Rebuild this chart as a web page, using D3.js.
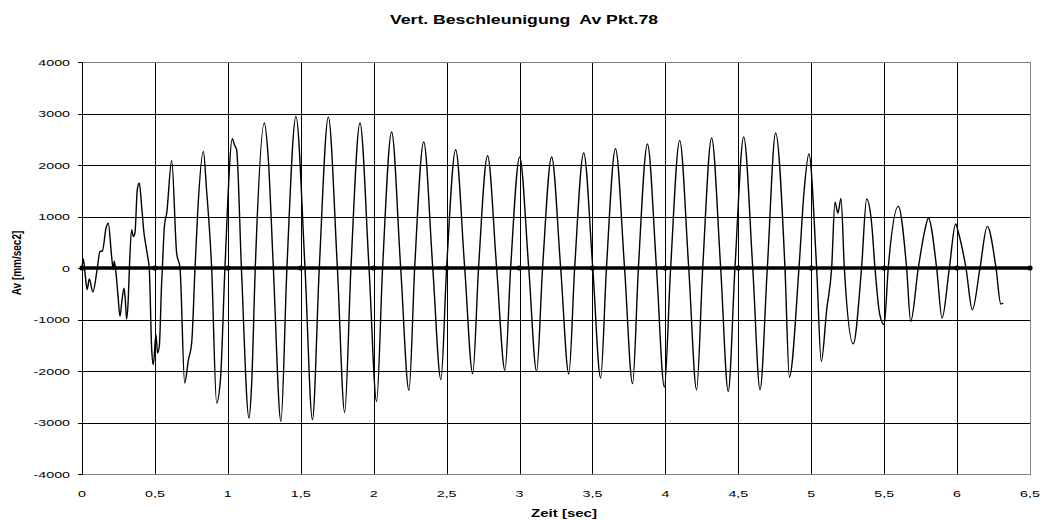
<!DOCTYPE html>
<html>
<head>
<meta charset="utf-8">
<script src="https://cdn.jsdelivr.net/npm/d3@7"></script>
<style>
    body { margin: 0; background: #fff; }
    text { font-family: "Liberation Sans", Arial, sans-serif; fill: #000; }
    .tickText { font-size: 9.5px; }
    .chartTitle { font-size: 12px; font-weight: bold; }
    .axisLabel { font-size: 10px; font-weight: bold; }
</style>
</head>
<body>
<div id="chart"></div>
<script>

// time [sec] and vertical acceleration [mm/sec2]
const zeit = [
    0.000, 0.009, 0.020, 0.035, 0.050, 0.075, 0.105, 0.123, 0.140, 0.165, 0.180, 0.203, 0.214, 0.221, 0.233,
    0.249, 0.260, 0.272, 0.288, 0.297, 0.306, 0.317, 0.325, 0.340, 0.352, 0.363, 0.379, 0.393, 0.409, 0.425,
    0.439, 0.450, 0.461, 0.478, 0.489, 0.507, 0.518, 0.530, 0.546, 0.551, 0.565, 0.581, 0.615, 0.649, 0.672,
    0.704, 0.730, 0.752, 0.775, 0.793, 0.832, 0.854, 0.889, 0.923, 0.950, 0.980, 1.031, 1.044, 1.060, 1.093,
    1.145, 1.163, 1.188, 1.250, 1.277, 1.312, 1.364, 1.405, 1.467, 1.529, 1.580, 1.627, 1.689, 1.751, 1.801,
    1.844, 1.906, 1.968, 2.020, 2.061, 2.123, 2.185, 2.242, 2.281, 2.343, 2.405, 2.461, 2.500, 2.562, 2.624,
    2.679, 2.719, 2.781, 2.843, 2.900, 2.939, 3.001, 3.063, 3.117, 3.158, 3.220, 3.282, 3.338, 3.378, 3.440,
    3.502, 3.556, 3.596, 3.658, 3.720, 3.775, 3.815, 3.877, 3.939, 3.993, 4.036, 4.098, 4.160, 4.214, 4.256,
    4.317, 4.379, 4.431, 4.477, 4.537, 4.599, 4.649, 4.699, 4.756, 4.820, 4.850, 4.916, 4.950, 4.984, 5.037,
    5.069, 5.106, 5.140, 5.163, 5.183, 5.204, 5.227, 5.288, 5.345, 5.380, 5.415, 5.437, 5.470, 5.500, 5.528,
    5.597, 5.654, 5.682, 5.734, 5.780, 5.803, 5.860, 5.897, 5.947, 5.990, 6.010, 6.061, 6.105, 6.157, 6.207,
    6.267, 6.300, 6.317
];
const av = [
    0, 175, -80, -420, -215, -465, 0, 320, 330, 780, 870, 226, -30, 130, -100,
    -615, -940, -680, -390, -615, -990, -615, 0, 744, 615, 680, 1520, 1650, 1197, 680,
    420, 226, 0, -1585, -1877, -1295, -1650, -1520, -290, 0, 810, 1068, 2090, 290, 0,
    -2233, -1780, -1456, 0, 1068, 2265, 1520, 0, -2620, -2135, 0, 2510, 2400, 2297, 0,
    -2913, -2265, 0, 2815, 2135, 0, -2978, 0, 2945, 0, -2945, 0, 2930, 0, -2803,
    0, 2815, 0, -2590, 0, 2640, 0, -2376, 0, 2447, 0, -2169, 0, 2297, 0,
    -2052, 0, 2180, 0, -1988, 0, 2155, 0, -2007, 0, 2155, 0, -2058, 0, 2233,
    0, -2136, 0, 2316, 0, -2246, 0, 2408, 0, -2311, 0, 2478, 0, -2363, 0,
    2524, 0, -2396, 0, 2544, 0, -2363, 0, 2621, 0, -2117, 0, 1456, 2213, 0,
    -1813, -810, 0, 1281, 1068, 1352, 0, -1470, 0, 1340, 840, 0, -907, -1101, 0,
    1197, 0, -1036, 0, 744, 971, 0, -971, 0, 854, 680, 0, -810, 0, 808,
    0, -700, -680
];

// zero reference series with its markers
const nullZeit = [0, 0.5, 1, 1.5, 2, 2.5, 3, 3.5, 4, 4.5, 5, 5.5, 6, 6.5];
const nullAv = [0, 0, 0, 0, 0, 0, 0, 0, 0, 0, 0, 0, 0, 0];

// axis ticks
const xTicks = [0, 0.5, 1, 1.5, 2, 2.5, 3, 3.5, 4, 4.5, 5, 5.5, 6, 6.5];
const yTicks = [-4000, -3000, -2000, -1000, 0, 1000, 2000, 3000, 4000];

/**********************
***** BASIC SETUP *****
**********************/

const width = 1042;
const height = 520;
const margin = {top: 62, left: 82, right: 12, bottom: 46};

const plotWidth = width - margin.left - margin.right;
const plotHeight = height - margin.top - margin.bottom;

// the original picture is stretched sideways, so is its text
const stretch = 1.5;

const svg = d3.select("#chart")
    .append("svg")
    .attr("width", width)
    .attr("height", height);

const signal = zeit.map((t, i) => ({t: t, v: av[i]}));
const nullLine = nullZeit.map((t, i) => ({t: t, v: nullAv[i]}));

/***********************
***** X & Y SCALES *****
***********************/

const xScale = d3.scaleLinear()
    .domain([0, 6.5])
    .range([0, plotWidth]);

const yScale = d3.scaleLinear()
    .domain([-4000, 4000])
    .range([plotHeight, 0]);

const plot = svg.append("g")
    .attr("transform", `translate(${margin.left}, ${margin.top})`);

/*********************
***** GRIDLINES *****
*********************/

plot.append("g")
    .attr("class", "grid")
    .call(d3.axisBottom(xScale)
        .tickValues(xTicks)
        .tickSize(plotHeight)
        .tickFormat(""))
    .call(g => g.select(".domain").remove())
    .call(g => g.selectAll("line").attr("stroke", "#000").attr("shape-rendering", "crispEdges"));

plot.append("g")
    .attr("class", "grid")
    .call(d3.axisLeft(yScale)
        .tickValues(yTicks)
        .tickSize(-plotWidth)
        .tickFormat(""))
    .call(g => g.select(".domain").remove())
    .call(g => g.selectAll("line").attr("stroke", "#000").attr("shape-rendering", "crispEdges"));

// plot frame
plot.append("rect")
    .attr("width", plotWidth)
    .attr("height", plotHeight)
    .attr("fill", "none")
    .attr("stroke", "#808080")
    .attr("shape-rendering", "crispEdges");

/****************
***** AXES *****
****************/

// y axis line with short outside ticks
const yaxis = plot.append("g")
    .call(d3.axisLeft(yScale)
        .tickValues(yTicks)
        .tickSize(4)
        .tickFormat(""));
yaxis.select(".domain").attr("stroke", "#000").attr("shape-rendering", "crispEdges");
yaxis.selectAll("line").attr("stroke", "#000").attr("shape-rendering", "crispEdges");

// y tick labels
plot.selectAll(".yLabel")
    .data(yTicks)
    .enter()
    .append("text")
    .attr("class", "tickText yLabel")
    .attr("text-anchor", "end")
    .attr("transform", d => `translate(-12, ${yScale(d) + 3.5}) scale(${stretch}, 1)`)
    .text(d => d);

// x tick labels
plot.selectAll(".xLabel")
    .data(xTicks)
    .enter()
    .append("text")
    .attr("class", "tickText xLabel")
    .attr("text-anchor", "middle")
    .attr("transform", d => `translate(${xScale(d)}, ${plotHeight + 23}) scale(${stretch}, 1)`)
    .text(d => String(d).replace(".", ","));

/*****************
***** SERIES *****
*****************/

const zeroLine = d3.line()
    .x(d => xScale(d.t))
    .y(d => yScale(d.v));

plot.append("path")
    .datum(nullLine)
    .attr("fill", "none")
    .attr("stroke", "#000")
    .attr("stroke-width", 3.5)
    .attr("d", zeroLine);

plot.selectAll(".marker")
    .data(nullLine)
    .enter()
    .append("circle")
    .attr("class", "marker")
    .attr("cx", d => xScale(d.t))
    .attr("cy", d => yScale(d.v))
    .attr("r", 2.6)
    .attr("fill", "#000");

const signalLine = d3.line()
    .x(d => xScale(d.t))
    .y(d => yScale(d.v))
    .curve(d3.curveMonotoneX);

plot.append("path")
    .datum(signal)
    .attr("fill", "none")
    .attr("stroke", "#000")
    .attr("stroke-width", 1.4)
    .attr("stroke-linejoin", "round")
    .attr("d", signalLine);

/*************************
***** TITLE, LABELS *****
*************************/

svg.append("text")
    .attr("class", "chartTitle")
    .attr("text-anchor", "middle")
    .attr("transform", `translate(524, 24) scale(1.47, 1)`)
    .attr("xml:space", "preserve")
    .text("Vert. Beschleunigung  Av Pkt.78");

svg.append("text")
    .attr("class", "axisLabel")
    .attr("text-anchor", "middle")
    .attr("transform", `translate(564, 517) scale(${stretch}, 1)`)
    .text("Zeit [sec]");

svg.append("text")
    .attr("class", "axisLabel")
    .attr("text-anchor", "middle")
    .attr("transform", `translate(21, 263) rotate(-90) scale(1, 1.3)`)
    .text("Av [mm/sec2]");

</script>
</body>
</html>
